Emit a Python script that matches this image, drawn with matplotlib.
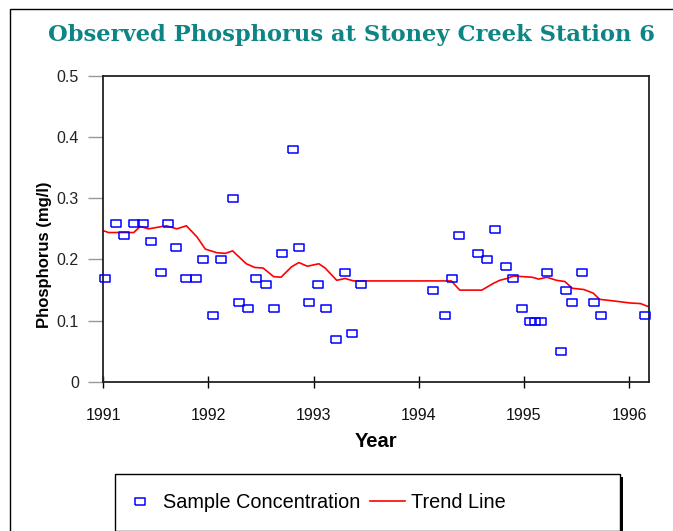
import matplotlib
matplotlib.use("Agg")
import matplotlib.pyplot as plt
from matplotlib.patches import Rectangle
from matplotlib.lines import Line2D

# sample concentrations (decimal year, mg/l)
sample_year = [1991.02, 1991.12, 1991.20, 1991.29, 1991.38, 1991.45, 1991.55, 1991.62,
               1991.69, 1991.79, 1991.88, 1991.95, 1992.04, 1992.12, 1992.23, 1992.29,
               1992.38, 1992.45, 1992.55, 1992.62, 1992.70, 1992.80, 1992.86, 1992.96,
               1993.04, 1993.12, 1993.21, 1993.30, 1993.37, 1993.45, 1994.14, 1994.25,
               1994.32, 1994.38, 1994.56, 1994.65, 1994.73, 1994.83, 1994.90, 1994.98,
               1995.06, 1995.11, 1995.16, 1995.22, 1995.35, 1995.40, 1995.46, 1995.55,
               1995.67, 1995.73, 1996.15]
sample_conc = [0.17, 0.26, 0.24, 0.26, 0.26, 0.23, 0.18, 0.26,
               0.22, 0.17, 0.17, 0.20, 0.11, 0.20, 0.30, 0.13,
               0.12, 0.17, 0.16, 0.12, 0.21, 0.38, 0.22, 0.13,
               0.16, 0.12, 0.07, 0.18, 0.08, 0.16, 0.15, 0.11,
               0.17, 0.24, 0.21, 0.20, 0.25, 0.19, 0.17, 0.12,
               0.10, 0.10, 0.10, 0.18, 0.05, 0.15, 0.13, 0.18,
               0.13, 0.11, 0.11]

# trend line
trend_year = [1991.00, 1991.05, 1991.29, 1991.35, 1991.43, 1991.60, 1991.70, 1991.79,
              1991.89, 1991.97, 1992.08, 1992.16, 1992.23, 1992.36, 1992.44, 1992.52,
              1992.62, 1992.69, 1992.79, 1992.86, 1992.94, 1993.05, 1993.11, 1993.22,
              1993.30, 1993.38, 1994.31, 1994.39, 1994.60, 1994.71, 1994.77, 1994.84,
              1994.90, 1995.08, 1995.14, 1995.22, 1995.31, 1995.39, 1995.46, 1995.57,
              1995.66, 1995.72, 1995.82, 1996.01, 1996.11, 1996.20]
trend_conc = [0.247, 0.244, 0.244, 0.254, 0.250, 0.255, 0.250, 0.255,
              0.237, 0.217, 0.211, 0.210, 0.214, 0.193, 0.187, 0.186,
              0.172, 0.171, 0.188, 0.195, 0.189, 0.193, 0.186, 0.166,
              0.169, 0.165, 0.165, 0.150, 0.150, 0.161, 0.166, 0.169,
              0.173, 0.171, 0.168, 0.171, 0.166, 0.164, 0.153, 0.151,
              0.145, 0.135, 0.133, 0.129, 0.128, 0.122]

year_ticks = [1991, 1992, 1993, 1994, 1995, 1996]
conc_ticks = [0, 0.1, 0.2, 0.3, 0.4, 0.5]
conc_labels = ["0", "0.1", "0.2", "0.3", "0.4", "0.5"]

plt.rcParams["font.family"] = ["Liberation Sans", "DejaVu Sans"]

W, H = 673, 531
fig = plt.figure(figsize=(W / 100, H / 100), dpi=100)

# outer frame (runs off right and bottom edges)
fig.patches.append(Rectangle((10 / W, -0.1), 1.2, 1 - 9 / H + 0.1,
                             transform=fig.transFigure, fill=False,
                             ec="black", lw=1.0))

ax = fig.add_axes([103.3 / W, 1 - 382 / H, (649 - 103.3) / W, (382 - 75.7) / H])

rect_marker = [(-1, -0.7), (1, -0.7), (1, 0.7), (-1, 0.7), (-1, -0.7)]
ax.plot(trend_year, trend_conc, color="#ff0000", lw=1.2, zorder=2)
ax.plot(sample_year, sample_conc, ls="none", marker=rect_marker, ms=7.2,
        mfc="none", mec="#0000ff", mew=1.1, zorder=3, clip_on=False)

ax.set_xlim(1991, 1996.19)
ax.set_ylim(0, 0.5)
ax.set_xticks(year_ticks)
ax.set_xticklabels([str(y) for y in year_ticks])
ax.set_yticks(conc_ticks)
ax.set_yticklabels(conc_labels)

ax.tick_params(axis="x", direction="inout", length=9, width=1, color="black",
               labelsize=11.5, pad=14, labelcolor="#111111")
ax.tick_params(axis="y", direction="out", length=11, width=1, color="#999999",
               labelsize=11.5, pad=6.5, labelcolor="#222222")
for s in ax.spines.values():
    s.set_color("#222222")
    s.set_linewidth(1.3)

ax.set_xlabel("Year", fontsize=14.5, fontweight="bold", labelpad=7)
ax.set_ylabel("Phosphorus (mg/l)", fontsize=12, fontweight="bold")
ax.yaxis.set_label_coords(-0.094, 0.415)

fig.text(351 / W, 1 - 35 / H, "Observed Phosphorus at Stoney Creek Station 6",
         ha="center", va="center", fontsize=16.3, fontweight="bold",
         color="#0e8585", family=["DejaVu Serif"])

# legend box with shadow, cut by the bottom edge
fig.patches.append(Rectangle((118 / W, -3 / H), 505 / W, 57 / H,
                             transform=fig.transFigure, fc="black", ec="none"))
fig.patches.append(Rectangle((115 / W, 0 / H), 505 / W, 57 / H,
                             transform=fig.transFigure, fc="white", ec="black", lw=1.0))
handles = [Line2D([], [], ls="none", marker=rect_marker, ms=7.2, mfc="none",
                  mec="#0000ff", mew=1.1),
           Line2D([], [], color="#ff0000", lw=1.2)]
fig.legend(handles, ["Sample Concentration", "Trend Line"], ncol=2, frameon=False,
           loc="center left", bbox_to_anchor=(122.5 / W, 1 - 502.5 / H),
           fontsize=14.3, handlelength=1.76, columnspacing=0.45, handletextpad=0.3,
           borderpad=0, borderaxespad=0)

fig.savefig("out.png", dpi=100)
